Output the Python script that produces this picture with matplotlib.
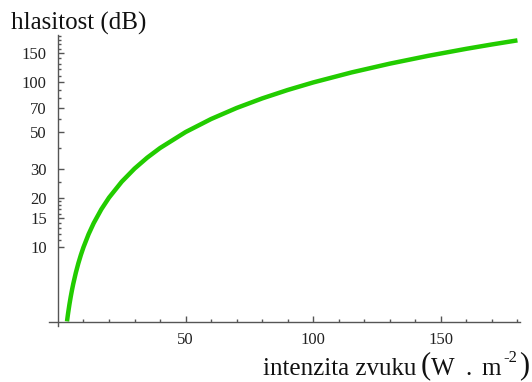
import matplotlib.pyplot as plt
from matplotlib.ticker import FixedLocator, NullFormatter

# values (intensity -> loudness)
intenzita = [3.55, 3.8, 4, 4.5, 5, 5.5, 6, 7, 8, 9, 10, 12, 14, 17, 20, 25, 30, 35, 40,
             50, 60, 70, 80, 90, 100, 115, 130, 145, 160, 170, 180]
hlasitost = [3.55, 3.8, 4, 4.5, 5, 5.5, 6, 7, 8, 9, 10, 12, 14, 17, 20, 25, 30, 35, 40,
             50, 60, 70, 80, 90, 100, 115, 130, 145, 160, 170, 180]

x_major = [50, 100, 150]
x_minor = [10, 20, 30, 40, 60, 70, 80, 90, 110, 120, 130, 140, 160, 170, 180]
y_major = [10, 15, 20, 30, 50, 70, 100, 150]
y_minor = [11, 12, 13, 14, 16, 17, 18, 19, 25, 40, 60, 80, 90, 110, 120, 130, 140,
           160, 170, 180, 190]

plt.rcParams['font.family'] = ['Liberation Serif', 'DejaVu Serif']

W, H = 532, 382
fig = plt.figure(figsize=(W / 100, H / 100), dpi=100)
ax = fig.add_axes([49 / W, 1 - 326 / H, 471 / W, 291 / H])

ax.plot(intenzita, hlasitost, color='#22cc00', lw=3.2, solid_capstyle='butt', clip_on=False)

ax.set_yscale('log')
ax.set_xlim(-3.5, 181)
ax.set_ylim(3.33, 194)

# axes in Mathematica style: crossing near the origin
ax.spines['top'].set_visible(False)
ax.spines['right'].set_visible(False)
ax.spines['left'].set_position(('data', 0))
ax.spines['bottom'].set_position(('data', 3.52))
for s in ['left', 'bottom']:
    ax.spines[s].set_color('#555555')
    ax.spines[s].set_linewidth(1.0)

ax.xaxis.set_major_locator(FixedLocator(x_major))
ax.xaxis.set_minor_locator(FixedLocator(x_minor))
ax.yaxis.set_major_locator(FixedLocator(y_major))
ax.yaxis.set_minor_locator(FixedLocator(y_minor))
ax.yaxis.set_major_formatter(plt.FixedFormatter([str(v) for v in y_major]))
ax.yaxis.set_minor_formatter(NullFormatter())
ax.xaxis.set_minor_formatter(NullFormatter())

ax.tick_params(axis='both', which='major', direction='in', length=4, width=1,
               color='#555555', labelsize=12, labelcolor='#222222')
ax.tick_params(axis='both', which='minor', direction='in', length=2, width=1,
               color='#555555')
ax.tick_params(axis='y', which='major', pad=8)
ax.tick_params(axis='x', which='major', pad=7)


def px_text(x, y, s, size):
    # place text by pixel position (x left, y baseline from top)
    fig.text(x / W, 1 - y / H, s, fontsize=size, color='#111111', ha='left', va='baseline')


px_text(11, 30, 'hlasitost (dB)', 18)

# x axis label, built from pieces like the original
px_text(263, 375, 'intenzita zvuku', 18)
px_text(421, 373, '(', 22)
px_text(431, 375, 'W', 18)
px_text(465, 375, '.', 18)
px_text(481, 375, 'm', 18)
px_text(503, 362, '-2', 12)
px_text(519, 373, ')', 22)

fig.savefig('out.png', dpi=100)
